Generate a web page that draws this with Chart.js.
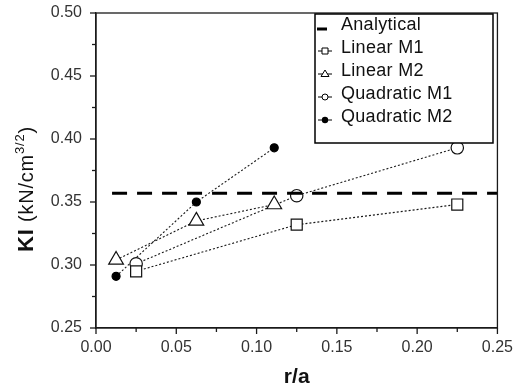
<!DOCTYPE html>
<html>
<head>
<meta charset="utf-8">
<script src="https://cdn.jsdelivr.net/npm/chart.js@4.4.0/dist/chart.umd.min.js"></script>
<style>
  html, body { margin: 0; padding: 0; background: #fff; }
  #wrap { width: 513px; height: 390px; }
</style>
</head>
<body>
<div id="wrap"><canvas id="c" width="513" height="390"></canvas></div>
<script>
// ---- data ----
const seriesLabels = ["Analytical", "Linear M1", "Linear M2", "Quadratic M1", "Quadratic M2"];
const analyticalX = [0.01, 0.25];
const analyticalY = [0.357, 0.357];
const linM1X = [0.025, 0.125, 0.225];
const linM1Y = [0.295, 0.332, 0.348];
const linM2X = [0.0125, 0.0625, 0.111];
const linM2Y = [0.304, 0.335, 0.348];
const quadM1X = [0.025, 0.125, 0.225];
const quadM1Y = [0.301, 0.355, 0.393];
const quadM2X = [0.0125, 0.0625, 0.111];
const quadM2Y = [0.291, 0.350, 0.393];
const xTicks = [0.00, 0.05, 0.10, 0.15, 0.20, 0.25];
const yTicks = [0.25, 0.30, 0.35, 0.40, 0.45, 0.50];
const xTitle = "r/a";
const yTitleParts = ["KI", " (kN/cm", "3/2", ")"];

const pts = (xs, ys) => xs.map((x, i) => ({ x: x, y: ys[i] }));
const AX = '#1a1a1a';
const FONT = '"Liberation Sans", Arial, sans-serif';

const dotted = {
  borderColor: '#1a1a1a', borderWidth: 1.1, borderDash: [2, 2], showLine: true, fill: false,
  pointBorderColor: '#111', pointBorderWidth: 1.2, tension: 0
};

const datasets = [
  { label: seriesLabels[0], data: pts(analyticalX, analyticalY), showLine: true, borderColor: '#000',
    borderWidth: 3, borderDash: [15, 10], pointRadius: 0, fill: false, mk: 'dash' },
  Object.assign({}, dotted, { label: seriesLabels[1], data: pts(linM1X, linM1Y), pointStyle: 'rect',
    pointRadius: 7.8, pointBackgroundColor: '#fff', mk: 'rect' }),
  Object.assign({}, dotted, { label: seriesLabels[2], data: pts(linM2X, linM2Y), pointStyle: 'triangle',
    pointRadius: 8.5, pointBackgroundColor: '#fff', mk: 'triangle' }),
  Object.assign({}, dotted, { label: seriesLabels[3], data: pts(quadM1X, quadM1Y), pointStyle: 'circle',
    pointRadius: 6.2, pointBackgroundColor: '#fff', mk: 'circle' }),
  Object.assign({}, dotted, { label: seriesLabels[4], data: pts(quadM2X, quadM2Y), pointStyle: 'circle',
    pointRadius: 4, pointBackgroundColor: '#000', pointBorderColor: '#000', mk: 'dot' })
];

// ticks, titles, legend box and frame
const extras = {
  id: 'extras',
  afterDraw(chart) {
    const ctx = chart.ctx, xs = chart.scales.x, ys = chart.scales.y, a = chart.chartArea;
    ctx.save();
    ctx.strokeStyle = AX;
    ctx.lineWidth = 1.3;
    // frame
    ctx.strokeRect(a.left, a.top, a.right - a.left, a.bottom - a.top);
    // major + minor ticks
    xTicks.forEach((v, i) => {
      const px = xs.getPixelForValue(v);
      ctx.beginPath(); ctx.moveTo(px, a.bottom); ctx.lineTo(px, a.bottom + 6); ctx.stroke();
      if (i < xTicks.length - 1) {
        const pm = xs.getPixelForValue((v + xTicks[i + 1]) / 2);
        ctx.beginPath(); ctx.moveTo(pm, a.bottom); ctx.lineTo(pm, a.bottom + 4); ctx.stroke();
      }
    });
    yTicks.forEach((v, i) => {
      const py = ys.getPixelForValue(v);
      ctx.beginPath(); ctx.moveTo(a.left, py); ctx.lineTo(a.left - 6, py); ctx.stroke();
      if (i < yTicks.length - 1) {
        const pm = ys.getPixelForValue((v + yTicks[i + 1]) / 2);
        ctx.beginPath(); ctx.moveTo(a.left, pm); ctx.lineTo(a.left - 4, pm); ctx.stroke();
      }
    });
    // x title
    ctx.fillStyle = '#111';
    ctx.font = 'bold 21px ' + FONT;
    ctx.textAlign = 'center'; ctx.textBaseline = 'alphabetic';
    ctx.fillText(xTitle, (a.left + a.right) / 2, 383);
    // y title (rotated)
    ctx.save();
    ctx.translate(33, 252);
    ctx.rotate(-Math.PI / 2);
    ctx.textAlign = 'left';
    ctx.letterSpacing = '0.8px';
    let cx = 0;
    ctx.font = 'bold 22px ' + FONT;
    ctx.fillText(yTitleParts[0], cx, 0); cx += ctx.measureText(yTitleParts[0]).width;
    ctx.font = '20px ' + FONT;
    ctx.fillText(yTitleParts[1], cx, 0); cx += ctx.measureText(yTitleParts[1]).width;
    ctx.font = '13px ' + FONT;
    ctx.fillText(yTitleParts[2], cx, -9); cx += ctx.measureText(yTitleParts[2]).width;
    ctx.font = '20px ' + FONT;
    ctx.fillText(yTitleParts[3], cx, 0);
    ctx.restore();
    // legend
    const L = 315, T = 14, R = 493, B = 143;
    ctx.fillStyle = '#fff';
    ctx.fillRect(L, T, R - L, B - T);
    ctx.lineWidth = 1.5; ctx.strokeStyle = '#000';
    ctx.strokeRect(L, T, R - L, B - T);
    ctx.font = '18px ' + FONT;
    ctx.letterSpacing = '0.3px';
    ctx.textAlign = 'left'; ctx.textBaseline = 'alphabetic';
    chart.data.datasets.forEach((ds, i) => {
      const by = 30 + i * 23;
      const mx = 325;
      ctx.strokeStyle = '#000'; ctx.fillStyle = '#000';
      if (ds.mk === 'dash') {
        ctx.lineWidth = 3;
        ctx.beginPath(); ctx.moveTo(317, by - 1); ctx.lineTo(327, by - 1); ctx.stroke();
      } else {
        ctx.lineWidth = 1;
        ctx.beginPath(); ctx.moveTo(318, by - 2); ctx.lineTo(332, by - 2); ctx.stroke();
        ctx.beginPath();
        const my = by - 2;
        if (ds.mk === 'rect') { ctx.fillStyle = '#fff'; ctx.rect(mx - 3, my - 3, 6, 6); ctx.fill(); ctx.stroke(); }
        else if (ds.mk === 'triangle') { ctx.fillStyle = '#fff'; ctx.moveTo(mx, my - 4); ctx.lineTo(mx + 4, my + 2.5); ctx.lineTo(mx - 4, my + 2.5); ctx.closePath(); ctx.fill(); ctx.stroke(); }
        else if (ds.mk === 'circle') { ctx.fillStyle = '#fff'; ctx.arc(mx, my, 3, 0, Math.PI * 2); ctx.fill(); ctx.stroke(); }
        else { ctx.fillStyle = '#000'; ctx.arc(mx, my, 3.2, 0, Math.PI * 2); ctx.fill(); }
      }
      ctx.fillStyle = '#111';
      ctx.fillText(ds.label, 341, by);
    });
    ctx.restore();
  }
};

new Chart(document.getElementById('c'), {
  type: 'scatter',
  data: { datasets: datasets },
  options: {
    responsive: false, animation: false, devicePixelRatio: 1,
    layout: { padding: { left: 0, top: 13, right: 15, bottom: 0 } },
    plugins: { legend: { display: false }, tooltip: { enabled: false } },
    scales: {
      x: {
        type: 'linear', min: 0, max: 0.25,
        afterBuildTicks: s => { s.ticks = xTicks.map(v => ({ value: v })); },
        afterFit: s => { s.height = 62; },
        grid: { display: true, drawOnChartArea: false, drawTicks: true, tickLength: 10, tickColor: 'rgba(0,0,0,0)' },
        border: { display: true, color: AX, width: 1.3 },
        ticks: { color: '#333', font: { family: FONT, size: 16 }, padding: 0, maxRotation: 0,
          callback: v => Number(v).toFixed(2) }
      },
      y: {
        type: 'linear', min: 0.25, max: 0.50,
        afterBuildTicks: s => { s.ticks = yTicks.map(v => ({ value: v })); },
        afterFit: s => { s.width = 96; },
        grid: { display: true, drawOnChartArea: false, drawTicks: true, tickLength: 14, tickColor: 'rgba(0,0,0,0)' },
        border: { display: true, color: AX, width: 1.3 },
        ticks: { color: '#333', font: { family: FONT, size: 16 }, padding: 0,
          callback: v => Number(v).toFixed(2) }
      }
    }
  },
  plugins: [extras]
});
</script>
</body>
</html>
